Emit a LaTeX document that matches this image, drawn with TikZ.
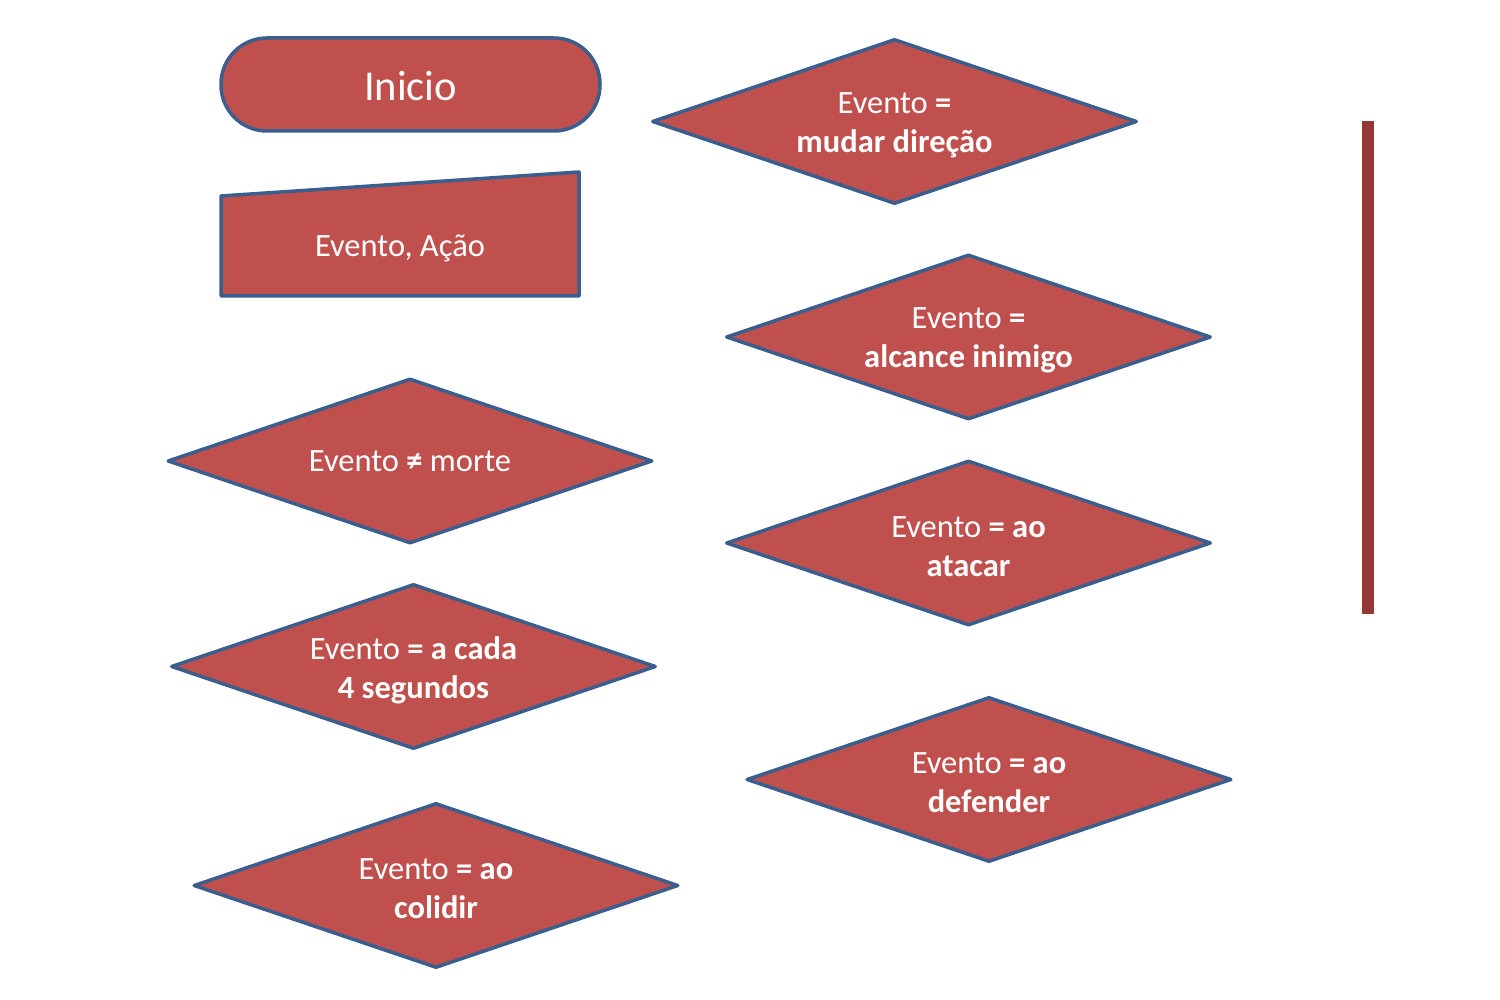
\documentclass[tikz,border=0pt]{standalone}
\usepackage{fontspec}
\setmainfont{Carlito}
\usetikzlibrary{shapes.geometric}
\definecolor{fillred}{HTML}{C0504D}
\definecolor{edgeblue}{HTML}{3A5F8E}
\definecolor{barred}{HTML}{953735}
\begin{document}
\begin{tikzpicture}[x=1pt,y=-1pt,
  shapebox/.style={draw=edgeblue, fill=fillred, line width=3.5pt, line join=round, text=white,
    font=\fontsize{32.5}{39}\selectfont, align=center},
  decision/.style={shapebox, diamond, aspect=2.94, minimum width=485pt, minimum height=165pt, inner sep=0pt},
  plaintext/.style={text=white, font=\fontsize{32.5}{39}\selectfont, align=center, inner sep=0pt},
  dtext/.style={plaintext, yshift=-3.5pt}]
\useasboundingbox (0,0) rectangle (1500,1000);

% Start terminal
\node[shapebox, rounded corners=46pt, minimum width=379pt, minimum height=93pt, inner sep=0pt] (inicio) at (410.5,84.5) {};
\node[plaintext, font=\fontsize{42.5}{50}\selectfont, yshift=-2pt] (iniciotxt) at (inicio.center) {Inicio};

% Manual input
\coordinate (mi1) at (221,196);
\coordinate (mi2) at (579,172);
\coordinate (mi3) at (579,296);
\coordinate (mi4) at (221,296);
\draw[shapebox] (mi1) -- (mi2) -- (mi3) -- (mi4) -- cycle;
\node[plaintext] (evacao) at (400,248) {Evento, Ação};

% Decisions
\node[decision] (d1) at (894.5,121.5) {};
\node[dtext] (t1) at (d1.center) {Evento \textbf{=}\\\textbf{mudar direção}};
\node[decision] (d2) at (968.5,337) {};
\node[dtext] (t2) at (d2.center) {Evento \textbf{=}\\\textbf{alcance inimigo}};
\node[decision] (d3) at (410,461) {};
\node[plaintext] (t3) at (d3.center) {Evento \textbf{≠} morte};
\node[decision] (d4) at (968.5,543) {};
\node[dtext] (t4) at (d4.center) {Evento \textbf{= ao}\\\textbf{atacar}};
\node[decision] (d5) at (413.5,666.5) {};
\node[dtext] (t5) at (d5.center) {Evento \textbf{= a cada}\\\textbf{4 segundos}};
\node[decision] (d6) at (989,779.5) {};
\node[dtext] (t6) at (d6.center) {Evento \textbf{= ao}\\\textbf{defender}};
\node[decision] (d7) at (436,885.5) {};
\node[dtext] (t7) at (d7.center) {Evento \textbf{= ao}\\\textbf{colidir}};

% Vertical bar
\fill[barred] (1362,121) rectangle (1374,614);
\end{tikzpicture}
\end{document}
